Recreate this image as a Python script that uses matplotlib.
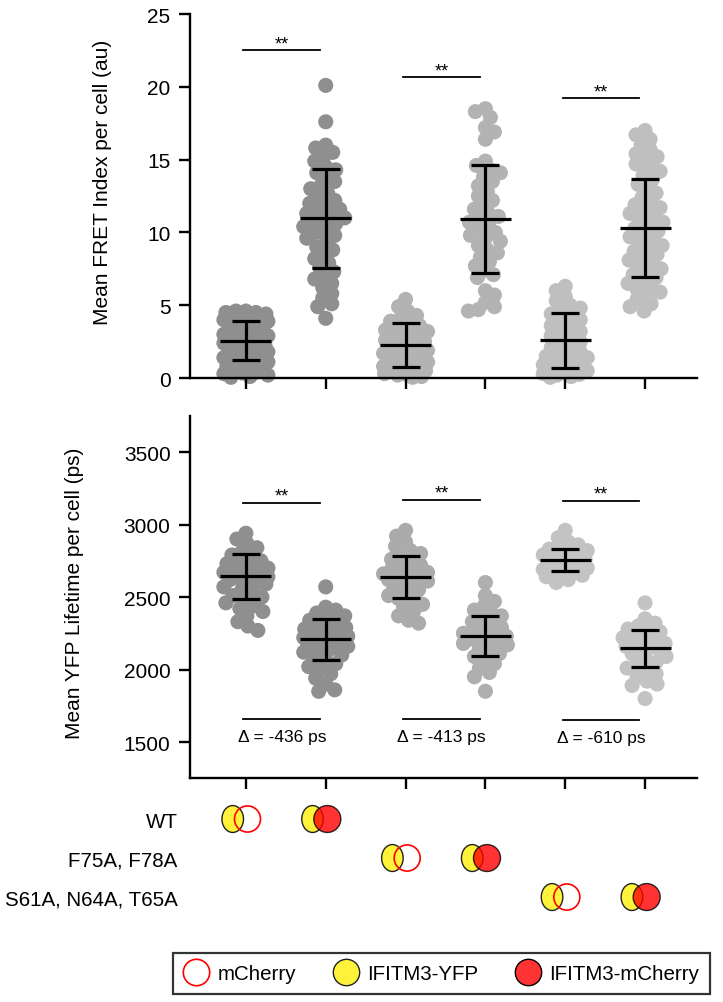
import numpy as np
import matplotlib
matplotlib.use("Agg")
import matplotlib.pyplot as plt
from matplotlib.patches import Ellipse
from matplotlib.lines import Line2D

plt.rcParams['font.family'] = ['Liberation Sans', 'DejaVu Sans']

# ---- data ----
positions = [1, 2, 3, 4, 5, 6]

fret_wt_mch = [4.6, 4.6, 4.5, 4.5, 4.4, 4.3, 4.3, 4.2, 4.1, 4.0, 3.9, 3.8, 3.7, 3.6, 3.5, 3.4, 3.3,
               3.2, 3.1, 3.0, 2.9, 2.8, 2.7, 2.6, 2.5, 2.4, 2.3, 2.2, 2.1, 2.0, 1.9, 1.8, 1.7, 1.6,
               1.5, 1.4, 1.3, 1.2, 1.1, 1.0, 0.9, 0.8, 0.7, 0.6, 0.5, 0.4, 0.35, 0.3, 0.2, 0.1, 0.05]
fret_wt_ifm = [20.1, 17.6, 16.0, 15.8, 15.5, 15.2, 14.9, 14.5, 14.3, 14.1, 13.8, 13.5, 13.2, 13.0,
               12.7, 12.4, 12.2, 12.0, 11.8, 11.6, 11.4, 11.3, 11.2, 11.0, 10.9, 10.8, 10.6, 10.4,
               10.2, 10.0, 9.8, 9.6, 9.3, 9.0, 8.8, 8.5, 8.2, 7.9, 7.6, 7.3, 7.0, 6.8, 6.5, 6.2,
               5.8, 5.5, 5.1, 4.9, 4.1]
fret_f_mch = [5.4, 4.9, 4.6, 4.3, 4.1, 3.9, 3.8, 3.6, 3.5, 3.3, 3.2, 3.0, 2.9, 2.8, 2.6, 2.5, 2.4,
              2.3, 2.1, 2.0, 1.9, 1.8, 1.7, 1.6, 1.5, 1.4, 1.3, 1.2, 1.1, 1.0, 0.9, 0.8, 0.7, 0.6,
              0.5, 0.45, 0.4, 0.3, 0.25, 0.2, 0.1, 0.05]
fret_f_ifm = [18.5, 18.3, 17.9, 17.2, 16.9, 16.4, 14.9, 14.6, 14.3, 14.1, 13.8, 13.5, 13.2, 12.8,
              12.5, 12.2, 11.9, 11.6, 11.3, 11.1, 10.9, 10.7, 10.5, 10.2, 10.0, 9.8, 9.6, 9.4,
              9.1, 8.8, 8.6, 8.3, 8.0, 7.7, 7.4, 7.1, 6.9, 6.0, 5.7, 5.2, 4.9, 4.7, 4.6]
fret_s_mch = [6.3, 6.0, 5.6, 5.3, 5.0, 4.8, 4.6, 4.4, 4.2, 4.0, 3.8, 3.6, 3.4, 3.2, 3.0, 2.9, 2.7,
              2.5, 2.3, 2.1, 1.9, 1.8, 1.6, 1.5, 1.4, 1.3, 1.2, 1.1, 1.0, 0.9, 0.8, 0.7, 0.6, 0.5,
              0.4, 0.3, 0.25, 0.2, 0.1, 0.05]
fret_s_ifm = [17.0, 16.7, 16.4, 16.0, 15.7, 15.4, 15.2, 15.0, 14.7, 14.4, 14.2, 13.9, 13.6, 13.3,
              13.0, 12.7, 12.4, 12.1, 11.9, 11.7, 11.5, 11.3, 11.1, 10.9, 10.7, 10.5, 10.3, 10.1,
              9.9, 9.7, 9.5, 9.3, 9.1, 8.9, 8.7, 8.5, 8.3, 8.1, 7.9, 7.7, 7.5, 7.3, 7.1, 6.9, 6.7,
              6.5, 6.3, 6.1, 5.9, 5.7, 5.4, 5.1, 4.9, 4.6]

fret_mean = [2.56, 10.97, 2.27, 10.94, 2.59, 10.28]
fret_sd = [1.35, 3.38, 1.52, 3.70, 1.89, 3.37]

life_wt_mch = [2940, 2900, 2870, 2840, 2810, 2790, 2770, 2750, 2740, 2730, 2710, 2700, 2690, 2680,
               2670, 2660, 2650, 2640, 2630, 2620, 2610, 2600, 2590, 2570, 2550, 2530, 2510, 2500,
               2480, 2460, 2440, 2420, 2400, 2370, 2330, 2300, 2270]
life_wt_ifm = [2570, 2430, 2410, 2390, 2370, 2350, 2340, 2320, 2300, 2290, 2280, 2270, 2260, 2250,
               2240, 2230, 2220, 2210, 2200, 2190, 2180, 2170, 2160, 2150, 2140, 2130, 2120, 2100,
               2080, 2060, 2040, 2020, 2000, 1970, 1940, 1900, 1860, 1850]
life_f_mch = [2960, 2920, 2880, 2850, 2820, 2800, 2780, 2760, 2740, 2720, 2700, 2690, 2680, 2670,
              2660, 2650, 2640, 2630, 2620, 2610, 2600, 2590, 2570, 2550, 2530, 2510, 2490, 2470,
              2450, 2430, 2400, 2370, 2340, 2320]
life_f_ifm = [2600, 2510, 2470, 2440, 2410, 2390, 2370, 2350, 2330, 2310, 2290, 2270, 2260, 2250,
              2240, 2230, 2220, 2210, 2200, 2190, 2180, 2170, 2150, 2130, 2110, 2090, 2070, 2040,
              2010, 1980, 1950, 1850]
life_s_mch = [2960, 2910, 2880, 2860, 2840, 2830, 2820, 2810, 2800, 2790, 2780, 2770, 2760, 2750,
              2740, 2730, 2720, 2710, 2700, 2690, 2680, 2670, 2660, 2650, 2640, 2620, 2600]
life_s_ifm = [2460, 2350, 2320, 2300, 2280, 2270, 2260, 2240, 2220, 2200, 2190, 2180, 2170, 2160,
              2150, 2140, 2130, 2110, 2090, 2070, 2050, 2030, 2010, 1990, 1970, 1950, 1920, 1900,
              1890, 1800]

life_mean = [2642, 2208, 2640, 2229, 2755, 2146]
life_sd = [154, 139, 146, 138, 77, 129]

fret_sig_y = [22.5, 20.65, 19.2]
life_sig_y = [3148, 3171, 3164]
delta_y = [1661, 1661, 1650]
delta_labels = ['Δ = -436 ps', 'Δ = -413 ps', 'Δ = -610 ps']

row_labels = ['WT', 'F75A, F78A', 'S61A, N64A, T65A']
legend_labels = ['mCherry', 'IFITM3-YFP', 'IFITM3-mCherry']

fret_groups = [fret_wt_mch, fret_wt_ifm, fret_f_mch, fret_f_ifm, fret_s_mch, fret_s_ifm]
life_groups = [life_wt_mch, life_wt_ifm, life_f_mch, life_f_ifm, life_s_mch, life_s_ifm]
fret_colors = ['#8f8f8f', '#8f8f8f', '#b3b3b3', '#b3b3b3', '#bfbfbf', '#bfbfbf']
life_colors = ['#8f8f8f', '#8f8f8f', '#ababab', '#afafaf', '#c3c3c3', '#c3c3c3']

YELLOW = '#fff23a'
RED = '#ff0000'


def swarm_x(ax, x0, vals, gap=10.0, half_width=22):
    # greedy beeswarm in pixel space; points may overlap, spread is capped
    tr = ax.transData
    pts = tr.transform(np.column_stack([np.full(len(vals), x0), vals]))
    xc = pts[0, 0]
    ypx = pts[:, 1]
    order = np.argsort(-ypx)
    cand = np.arange(-half_width, half_width + 1, 1.0)
    cand = cand[np.argsort(np.abs(cand), kind='stable')]
    placed_x, placed_y = [], []
    xs = np.empty(len(vals))
    for n, i in enumerate(order):
        y = ypx[i]
        c = cand if n % 2 else -cand
        if placed_x:
            px = np.array(placed_x)
            py = np.array(placed_y)
            d = np.sqrt((xc + c[:, None] - px[None, :]) ** 2 + (y - py[None, :]) ** 2).min(axis=1)
            good = np.where(d >= gap)[0]
            off = c[good[0]] if len(good) else c[np.argmax(d)]
        else:
            off = 0.0
        placed_x.append(xc + off)
        placed_y.append(y)
        xs[i] = xc + off
    return tr.inverted().transform(np.column_stack([xs, ypx]))[:, 0]


def draw_panel(ax, groups, colors, means, sds):
    for p, vals, c in zip(positions, groups, colors):
        xs = swarm_x(ax, p, vals)
        ax.scatter(xs, vals, s=118, color=c, edgecolors='none', zorder=1, clip_on=False)
    for p, m, s in zip(positions, means, sds):
        ax.vlines(p, m - s, m + s, color='black', lw=2.3, zorder=4)
        ax.hlines(m, p - 0.32, p + 0.32, color='black', lw=2.3, zorder=4)
        ax.hlines([m - s, m + s], p - 0.175, p + 0.175, color='black', lw=2.3, zorder=4)
    for side in ['top', 'right']:
        ax.spines[side].set_visible(False)
    for side in ['left', 'bottom']:
        ax.spines[side].set_linewidth(1.7)
    ax.tick_params(width=1.7, length=8, labelsize=15, direction='out', pad=6)
    ax.set_xticks(positions)
    ax.set_xticklabels([])
    ax.set_xlim(0.3, 6.65)


fig = plt.figure(figsize=(7.23, 10.03), dpi=100)
ax1 = fig.add_axes([0.2628, 0.6221, 0.7012, 0.3629])
ax2 = fig.add_axes([0.2628, 0.2230, 0.7012, 0.3615])
ax3 = fig.add_axes([0.2628, 0.0852, 0.7012, 0.1167])

ax1.set_ylim(0, 25)
ax1.set_xlim(0.3, 6.65)
ax2.set_ylim(1250, 3750)
ax2.set_xlim(0.3, 6.65)

draw_panel(ax1, fret_groups, fret_colors, fret_mean, fret_sd)
ax1.set_yticks([0, 5, 10, 15, 20, 25])
ax1.set_ylabel('Mean FRET Index per cell (au)', fontsize=15)
ax1.yaxis.set_label_coords(-0.154, 0.54)

draw_panel(ax2, life_groups, life_colors, life_mean, life_sd)
ax2.set_yticks([1500, 2000, 2500, 3000, 3500])
ax2.set_ylabel('Mean YFP Lifetime per cell (ps)', fontsize=15)
ax2.yaxis.set_label_coords(-0.209, 0.514)

# significance bars
for i, y in enumerate(fret_sig_y):
    p = positions[2 * i]
    ax1.plot([p - 0.03, p + 0.93], [y, y], color='black', lw=1.3)
    ax1.text(p + 0.45, y + 0.15, '**', ha='center', va='baseline', fontsize=13)
for i, y in enumerate(life_sig_y):
    p = positions[2 * i]
    ax2.plot([p - 0.03, p + 0.93], [y, y], color='black', lw=1.3)
    ax2.text(p + 0.45, y + 15, '**', ha='center', va='baseline', fontsize=13)
for i, (y, lab) in enumerate(zip(delta_y, delta_labels)):
    p = positions[2 * i]
    ax2.plot([p - 0.03, p + 0.93], [y, y], color='black', lw=1.3)
    ax2.text(p + 0.45, y - 120, lab, ha='center', va='center', fontsize=12.5)

# construct symbols under the axis
ax3.set_xlim(0.3, 6.65)
ax3.set_ylim(3.5, 0.5)
for s in ax3.spines.values():
    s.set_visible(False)
ax3.set_xticks([])
ax3.set_yticks([1, 2, 3])
ax3.set_yticklabels(row_labels, fontsize=14.8)
ax3.tick_params(axis='y', length=0, pad=9)
for r in range(3):
    pm, pi = positions[2 * r], positions[2 * r + 1]
    row = r + 1
    # donor + mCherry
    ax3.add_patch(Ellipse((pm - 0.165, row), 0.27, 0.69, facecolor=YELLOW, edgecolor='#222222', lw=1.0))
    ax3.add_patch(Ellipse((pm + 0.02, row), 0.326, 0.67, facecolor='none', edgecolor=RED, lw=1.2))
    # donor + acceptor
    ax3.add_patch(Ellipse((pi - 0.165, row), 0.27, 0.69, facecolor=YELLOW, edgecolor='#222222', lw=1.0))
    ax3.add_patch(Ellipse((pi + 0.02, row), 0.338, 0.69, facecolor=RED, alpha=0.8, edgecolor='black', lw=1.0))

handles = [
    Line2D([], [], ls='none', marker='o', markersize=19, markerfacecolor='none',
           markeredgecolor=RED, markeredgewidth=1.2),
    Line2D([], [], ls='none', marker='o', markersize=19, markerfacecolor=YELLOW,
           markeredgecolor='#222222', markeredgewidth=1.0),
    Line2D([], [], ls='none', marker='o', markersize=19, markerfacecolor='#ff3333',
           markeredgecolor='black', markeredgewidth=1.0),
]
leg = fig.legend(handles, legend_labels, loc='center', bbox_to_anchor=(0.6107, 0.0284), ncol=3,
                 fontsize=14.8, frameon=True, fancybox=False, edgecolor='black',
                 handlelength=1.2, handletextpad=0.45, columnspacing=1.8, borderpad=0.55)
leg.get_frame().set_linewidth(1.6)

fig.savefig('out.png', dpi=100)
